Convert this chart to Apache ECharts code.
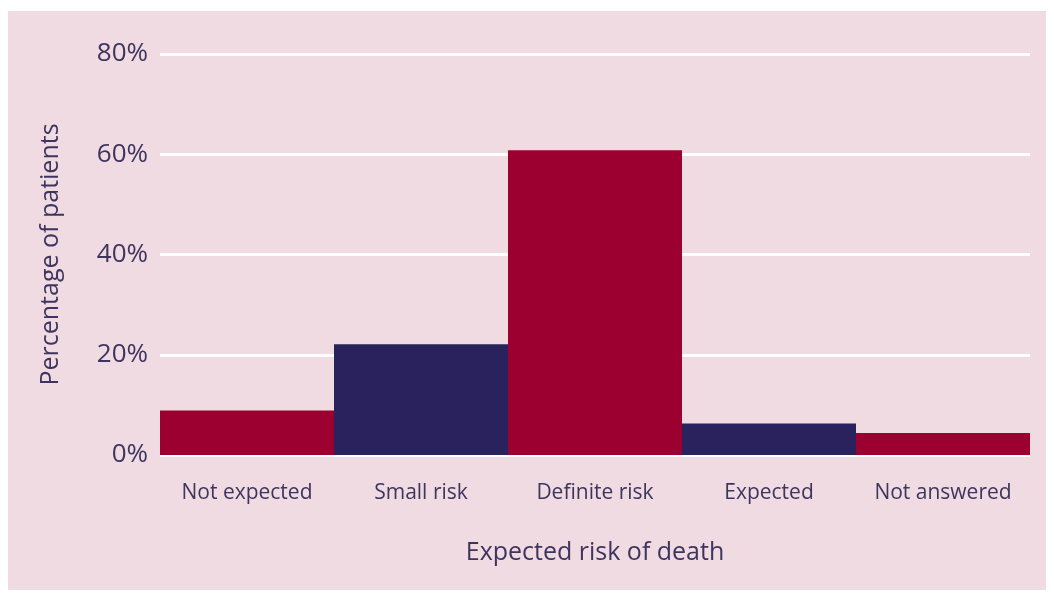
<!DOCTYPE html>
<html>
<head>
<meta charset="utf-8">
<script src="https://cdn.jsdelivr.net/npm/echarts@6/dist/echarts.min.js"></script>
<style>
  html, body { margin: 0; padding: 0; background: #ffffff; }
  #chart {
    position: absolute;
    left: 8px;
    top: 11px;
    width: 1038px;
    height: 579px;
    background: #f0dbe2;
  }
</style>
</head>
<body>
<div id="chart"></div>
<script>
// categories and values
const categories = ['Not expected', 'Small risk', 'Definite risk', 'Expected', 'Not answered']
const percentages = [8.9, 22.1, 60.8, 6.3, 4.4]
const barColors = ['#9c0031', '#29225c', '#9c0031', '#29225c', '#9c0031']
const yTicks = [0, 20, 40, 60, 80]

const textColor = '#3e355f'
const myChart = echarts.init(document.getElementById('chart'))

myChart.setOption({
  backgroundColor: 'transparent',
  textStyle: { fontFamily: 'Open Sans' },
  grid: {
    left: 152,
    right: 16,
    top: 43,
    bottom: 135
  },
  xAxis: {
    type: 'category',
    data: categories,
    name: 'Expected risk of death',
    nameLocation: 'middle',
    nameGap: 85,
    nameTextStyle: { color: textColor, fontSize: 25 },
    axisLine: { show: false },
    axisTick: { show: false },
    axisLabel: { color: textColor, fontSize: 21, margin: 28, interval: 0 }
  },
  yAxis: {
    type: 'value',
    min: yTicks[0],
    max: yTicks[yTicks.length - 1],
    interval: 20,
    name: 'Percentage of patients',
    nameLocation: 'middle',
    nameGap: 97,
    nameTextStyle: { color: textColor, fontSize: 25 },
    axisLine: { show: false },
    axisTick: { show: false },
    axisLabel: {
      color: textColor,
      fontSize: 26,
      margin: 12,
      formatter: '{value}%'
    },
    splitLine: { lineStyle: { color: '#ffffff', width: 3 } }
  },
  series: [
    {
      type: 'bar',
      barCategoryGap: '0%',
      data: percentages.map((v, i) => ({
        value: v,
        itemStyle: { color: barColors[i] }
      })),
      z: 3
    }
  ]
})
</script>
</body>
</html>
